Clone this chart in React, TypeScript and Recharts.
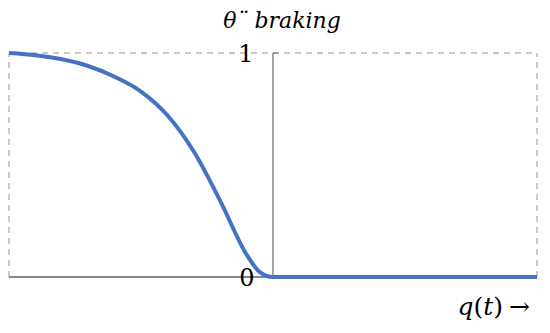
import React from 'react';
import { LineChart, Line, XAxis, YAxis, ReferenceLine } from 'recharts';

const xs = [-1, -0.9, -0.8, -0.7, -0.6, -0.5, -0.4, -0.3, -0.2, -0.1, -0.05, 0, 1];
const ys = [1.0, 0.99, 0.972, 0.942, 0.894, 0.828, 0.722, 0.56, 0.34, 0.1, 0.022, 0, 0];
const title = 'θ¨ braking';
const yTickLabels = ['0', '1'];

const data = xs.map((x, i) => ({ x, y: ys[i] }));

const serif = '"DejaVu Serif", serif';

const AxisLabels = (props: any) => {
  const { viewBox } = props;
  const { x, y, height } = viewBox;
  return (
    <g>
      <text x={x - 27} y={y} dy={9} textAnchor="middle" fontFamily={serif} fontSize={24} fill="#000">{yTickLabels[1]}</text>
      <text x={x - 26} y={y + height} dy={9} textAnchor="middle" fontFamily={serif} fontSize={24} fill="#000">{yTickLabels[0]}</text>
      <text x={x + 9} y={y - 25} textAnchor="middle" fontFamily={serif} fontStyle="italic" fontSize={22} fill="#000">{title}</text>
    </g>
  );
};

const XLabel = (props: any) => {
  const { viewBox } = props;
  const { x, y, height } = viewBox;
  return (
    <text x={x - 7} y={y + height + 38} textAnchor="end" fontFamily={serif} fontSize={25} fill="#000">
      <tspan fontStyle="italic">q</tspan>
      <tspan>(</tspan>
      <tspan fontStyle="italic">t</tspan>
      <tspan>)</tspan>
      <tspan dx={6}>→</tspan>
    </text>
  );
};

export default function App() {
  return (
    <div style={{ position: 'absolute', left: 0, top: 0, background: '#fff' }}>
      <LineChart width={550} height={333} data={data} margin={{ top: 53, right: 13, bottom: 56, left: 9 }}>
        <XAxis dataKey="x" type="number" domain={[-1, 1]} hide />
        <YAxis type="number" domain={[0, 1]} hide width={0} />
        <ReferenceLine y={1} stroke="#bbb" strokeWidth={1.5} strokeDasharray="6 5" />
        <ReferenceLine x={-1} stroke="#bbb" strokeWidth={1.5} strokeDasharray="6 5" />
        <ReferenceLine x={1} stroke="#bbb" strokeWidth={1.5} strokeDasharray="6 5" label={<XLabel />} />
        <ReferenceLine y={0} stroke="#888" strokeWidth={2} />
        <ReferenceLine segment={[{ x: 0, y: 1 }, { x: 0.02, y: 1 }]} stroke="#888" strokeWidth={1.5} />
        <ReferenceLine x={0} stroke="#888" strokeWidth={1.5} label={<AxisLabels />} />
        <Line type="monotone" dataKey="y" stroke="#4472C4" strokeWidth={4} dot={false} isAnimationActive={false} />
      </LineChart>
    </div>
  );
}
